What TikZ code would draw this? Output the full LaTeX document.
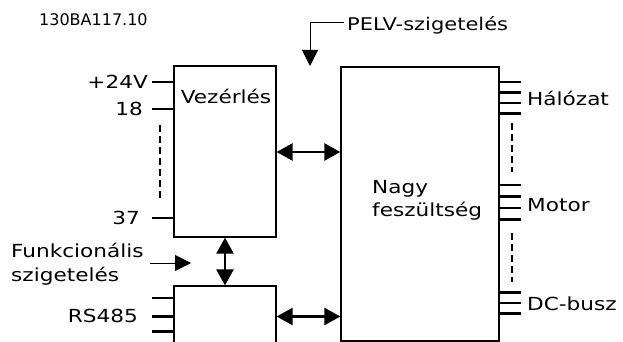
\documentclass[tikz,border=0pt]{standalone}
\usepackage{fontspec}
\setmainfont{DejaVu Sans}[FakeStretch=1.2]
\newfontfamily\codefont{DejaVu Sans}
\usetikzlibrary{arrows.meta}

\begin{document}
\begin{tikzpicture}[
      x=1pt,y=-1pt,
      blokk/.style={
        draw=black,
        line width=1.3pt,
        inner sep=0pt
      },
      lab/.style={
        inner sep=0pt,
        font=\fontsize{18}{24}\selectfont
      },
      stub/.style={line width=2.2pt},
      gap/.style={line width=2.2pt,dash pattern=on 7pt off 4pt},
      dbl/.style={{Triangle[length=16pt,width=17pt]}-{Triangle[length=16pt,width=17pt]},line width=2.6pt},
      thin/.style={-{Triangle[length=16pt,width=16pt]},line width=1pt}
    ]
      \useasboundingbox (0,0) rectangle (623,342);
      % blocks
      \node[blokk,minimum width=102pt,minimum height=171pt] (ctrl) at (225,151.5) {};
      \node[blokk,minimum width=102pt,minimum height=70pt] (bus) at (225,321) {};
      \node[blokk,minimum width=158pt,minimum height=274pt] (hv) at (420,204) {};
      \node[lab] (vez) at (226,96) {Vezérlés};
      \node[lab,align=left,anchor=north west,font=\fontsize{18}{23}\selectfont] (nagy) at (372,180) {Nagy\\feszültség};
      % labels
      \node[inner sep=0pt,anchor=west] (code) at (39,20) {\codefont\fontsize{16}{19}\selectfont 130BA117.10};
      \node[lab,anchor=east] (v24) at (148,82) {+24V};
      \node[lab,anchor=east] (t18) at (143,109) {18};
      \node[lab,anchor=east] (t37) at (140,218) {37};
      \node[lab,anchor=east] (rs) at (138,316) {RS485};
      \node[lab,anchor=west,align=left] (funk) at (11,264) {Funkcionális\\szigetelés};
      \node[lab,anchor=west,font=\fontsize{17.5}{20}\selectfont] (pelv) at (347,25) {PELV-szigetelés};
      \node[lab,anchor=west] (net) at (527,98) {Hálózat};
      \node[lab,anchor=west] (mot) at (527,205) {Motor};
      \node[lab,anchor=west] (dc) at (527,304) {DC-busz};
      \coordinate (pelvtip) at (310,66);
      \coordinate (funktip) at (191,263);
      % terminals
      \draw[stub] (ctrl.west |- v24) -- ++(-21,0);
      \draw[stub] (ctrl.west |- t18) -- ++(-21,0);
      \draw[stub] (ctrl.west |- t37) -- ++(-21,0);
      \draw[gap] (160,125) -- (160,200);
      \foreach \y in {298,316.5,331.5}
        \draw[stub] (bus.west |- 0,\y) -- ++(-21,0);
      \foreach \y in {82,92.5,103,113.5,185,196.5,208,219.5,292.5,303,313.5}
        \draw[stub] (hv.east |- 0,\y) -- ++(21,0);
      \draw[gap] (512,123) -- (512,172);
      \draw[gap] (512,233) -- (512,282);
      % connections
      \draw[dbl] (ctrl.east |- 0,152) -- (hv.west |- 0,152);
      \draw[dbl] (bus.east |- 0,316.5) -- (hv.west |- 0,316.5);
      \draw[dbl] (ctrl.south) -- (bus.north);
      \draw[thin] (pelv.west) ++(-3,-2) -| (pelvtip);
      \draw[thin] (funk.east |- funktip) ++(6,0) -- (funktip);
    \end{tikzpicture}
\end{document}
